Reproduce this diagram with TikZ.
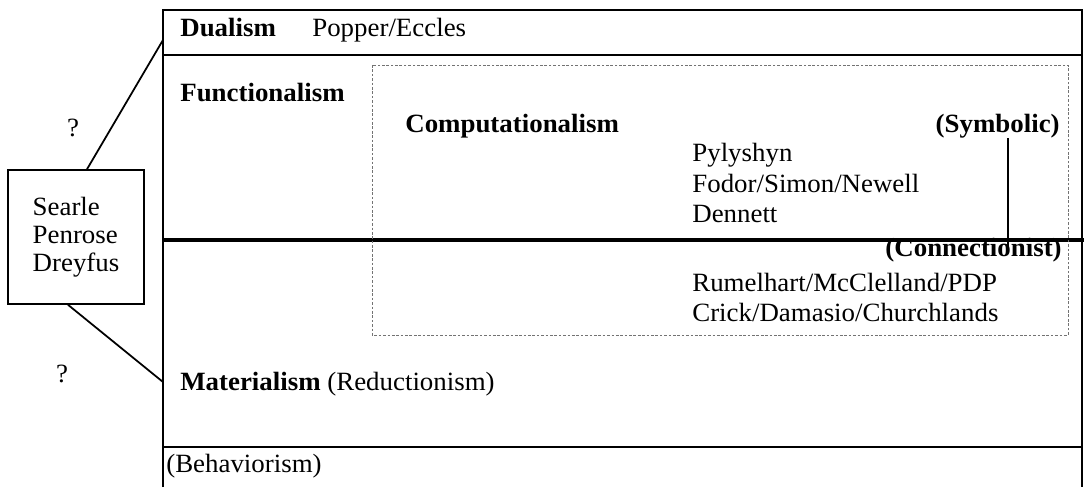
\documentclass[tikz,border=0pt]{standalone}
\usepackage{fontspec}
\setmainfont{Liberation Serif}[FakeStretch=1.02]
\usetikzlibrary{positioning, calc}

\begin{document}
\begin{tikzpicture}[x=0.02cm, y=-0.02cm,
  txt/.style={anchor=base west, inner sep=0pt, font=\fontsize{15}{18}\selectfont},
  hd/.style={txt, font=\fontsize{15}{18}\selectfont\bfseries},
  frm/.style={draw=black, line width=1.1pt},
  sep/.style={draw=black, line width=2pt},
  dots/.style={draw=black!55, line width=0.5pt, dash pattern=on 1.5pt off 1pt},
  peer/.style={draw=black, line width=0.9pt, minimum width=2.72cm, minimum height=2.68cm,
    align=left, font=\fontsize{15}{16}\selectfont},
  lnk/.style={draw=black, line width=1pt}]
  \useasboundingbox (0,0) rectangle (1084,487);
  % frame and bands
  \draw[frm] (163,487) -- (163,10) -- (1082,10) -- (1082,487);
  \draw[frm] (163,55) -- (1082,55);
  \draw[sep] (163,240) -- (1084,240);
  \draw[frm] (163,447) -- (1082,447);
  \draw[dots] (372,65) rectangle (1068,335);
  % labels
  \node[hd] (dua) at (180,36) {Dualism};
  \node[txt] (pop) at (312,36) {Popper/Eccles};
  \node[hd] (fun) at (180,101) {Functionalism};
  \node[hd] (com) at (405,132) {Computationalism};
  \node[hd, anchor=base east] (sym) at (1060,132) {(Symbolic)};
  \node[txt] (pyl) at (692,161) {Pylyshyn};
  \node[txt] (fod) at (692,192) {Fodor/Simon/Newell};
  \node[txt] (den) at (692,222) {Dennett};
  \node[hd, anchor=base east] (con) at (1062,256) {(Connectionist)};
  \node[txt] (rum) at (692,291) {Rumelhart/McClelland/PDP};
  \node[txt] (cri) at (692,321) {Crick/Damasio/Churchlands};
  \node[txt] (mat) at (180,390) {\textbf{Materialism} (Reductionism)};
  \node[txt] (beh) at (166,472) {(Behaviorism)};
  % critics
  \node[peer] (sp) at (76,237) {Searle\\Penrose\\Dreyfus};
  \node[txt, anchor=center] (q1) at (73,128) {?};
  \node[txt, anchor=center] (q2) at (62,374) {?};
  \coordinate (up) at (163,40);
  \coordinate (dn) at (163,382);
  \coordinate (bar) at (1008,0);
  \draw[lnk] ([xshift=0.22cm]sp.north) -- (up);
  \draw[lnk] ([xshift=-0.16cm]sp.south) -- (dn);
  \draw[lnk] (sym.south -| bar) -- (con.center -| bar);
\end{tikzpicture}
\end{document}
